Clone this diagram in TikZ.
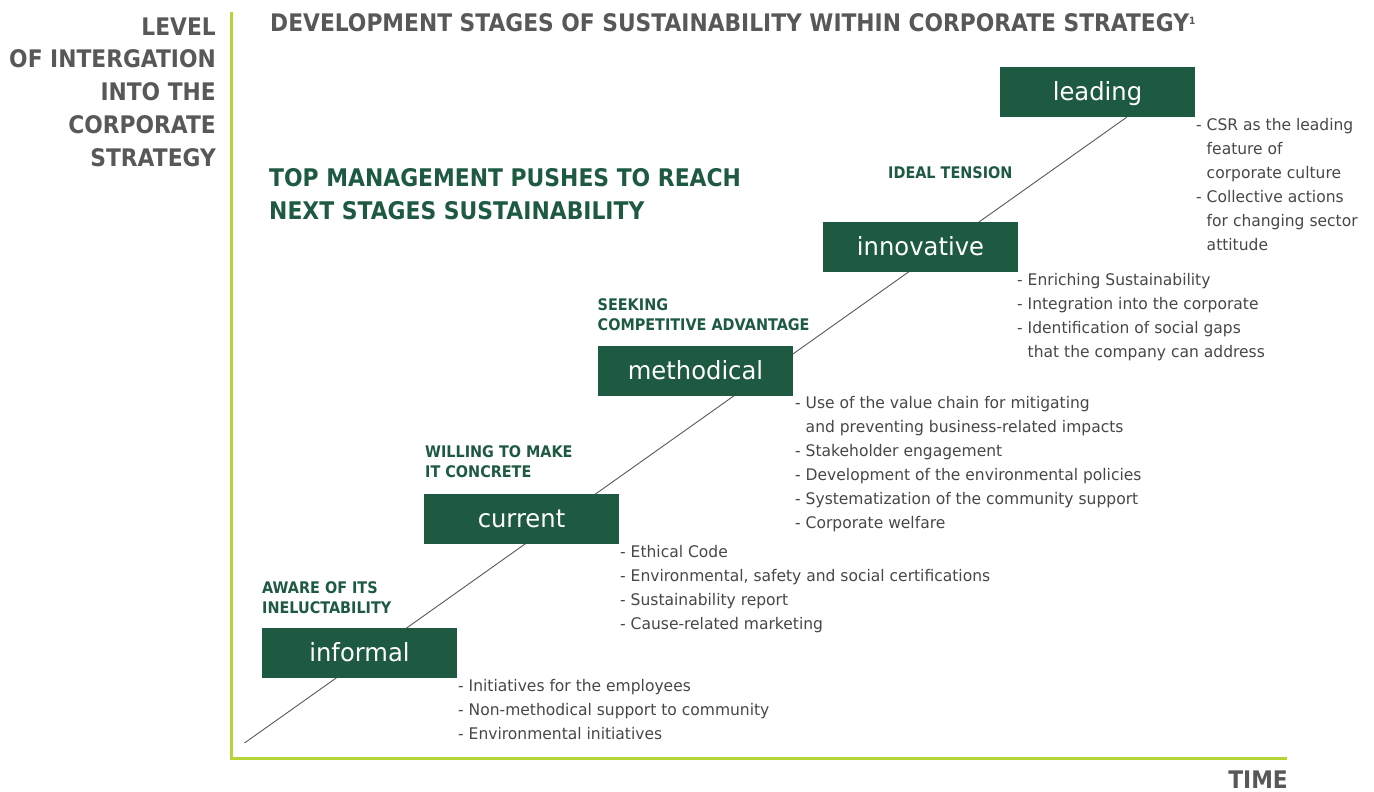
\documentclass[tikz,border=0pt]{standalone}
\usepackage{fontspec}
\setmainfont{DejaVu Sans}[FakeStretch=0.97,BoldFeatures={FakeStretch=0.9}]
\definecolor{pine}{HTML}{1D5A41}
\definecolor{lime}{HTML}{B7D436}
\definecolor{slate}{HTML}{585858}
\definecolor{note}{HTML}{474747}

\begin{document}
\begin{tikzpicture}
[x=1pt,y=-1pt
,stage/.style={fill=pine,text=white,minimum width=195pt,minimum height=50pt,inner sep=0pt
  ,text height=19pt,text depth=3pt,font=\fontsize{25}{25}\selectfont}
,goal/.style={anchor=base west,align=left,inner sep=0pt,text=pine,font=\bfseries\fontsize{16}{20}\selectfont}
,push/.style={goal,font=\bfseries\fontsize{24.3}{33.3}\selectfont}
,items/.style={anchor=base west,align=left,inner sep=0pt,text=note,font=\fontsize{16}{24}\selectfont}
,heading/.style={inner sep=0pt,text=slate,font=\bfseries\fontsize{24.2}{32.8}\selectfont}
,axis/.style={draw=lime,line width=3pt}
,trend/.style={draw=slate,line width=0.9pt}
]
\useasboundingbox (0,0) rectangle (1374,792);

\coordinate (top) at (231,12);
\coordinate (corner) at (231,758);
\coordinate (end) at (1287,758);
\draw[axis] (top) -- (corner) -- (end);

\coordinate (origin) at (244.5,743);
\coordinate (peak) at (1127,117);
\draw[trend] (origin) -- (peak);

\node[stage] (informal) at (359.5,653) {informal};
\node[stage] (current) at (521.5,519) {current};
\node[stage] (methodical) at (695.5,371) {methodical};
\node[stage] (innovative) at (920.5,247) {innovative};
\node[stage] (leading) at (1097.5,92) {leading};

% multi-line nodes sit on the baseline of their last line
\node[goal] (aware) at (262,613) {AWARE OF ITS\\INELUCTABILITY};
\node[goal] (willing) at (425,477) {WILLING TO MAKE\\IT CONCRETE};
\node[goal] (seeking) at (597.5,330) {SEEKING\\COMPETITIVE ADVANTAGE};
\node[goal] (ideal) at (888,178) {IDEAL TENSION};
\node[push] (push) at (269,219.3) {TOP MANAGEMENT PUSHES TO REACH\\NEXT STAGES SUSTAINABILITY};

\node[items] (informal-items) at (458,739) {- Initiatives for the employees\\- Non-methodical support to community\\- Environmental initiatives};
\node[items] (current-items) at (620,629) {- Ethical Code\\- Environmental, safety and social certifications\\- Sustainability report\\- Cause-related marketing};
\node[items] (methodical-items) at (795,528) {- Use of the value chain for mitigating\\\hphantom{- }and preventing business-related impacts\\- Stakeholder engagement\\- Development of the environmental policies\\- Systematization of the community support\\- Corporate welfare};
\node[items] (innovative-items) at (1017,357) {- Enriching Sustainability\\- Integration into the corporate\\- Identification of social gaps\\\hphantom{- }that the company can address};
\node[items] (leading-items) at (1196,250) {- CSR as the leading\\\hphantom{- }feature of\\\hphantom{- }corporate culture\\- Collective actions\\\hphantom{- }for changing sector\\\hphantom{- }attitude};

\node[heading,anchor=base west] (title) at (270,31.5) {DEVELOPMENT STAGES OF SUSTAINABILITY WITHIN CORPORATE STRATEGY\raisebox{0.55ex}{\fontsize{10}{10}\selectfont 1}};
\node[heading,align=right,anchor=base east] (level) at (216,166.2) {LEVEL\\OF INTERGATION\\INTO THE\\CORPORATE\\STRATEGY};
\node[heading,anchor=base east] (time) at (1288,788) {TIME};
\end{tikzpicture}
\end{document}
